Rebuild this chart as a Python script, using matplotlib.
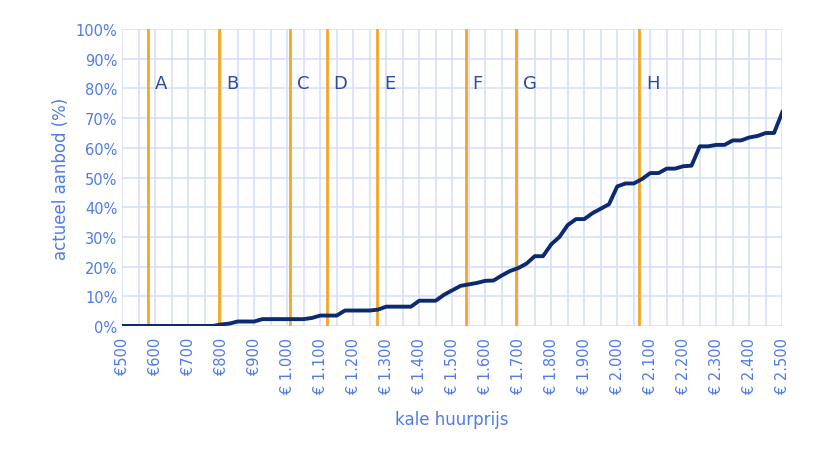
import numpy as np
import matplotlib.pyplot as plt
from matplotlib.ticker import FuncFormatter, MultipleLocator

# huurprijs (euro) en actueel aanbod (%)
prijs = list(range(500, 2501, 25))
aanbod = [0, 0, 0, 0, 0, 0, 0, 0, 0, 0, 0, 0,
          0.5, 0.8, 1.5, 1.5, 1.5, 2.3, 2.3, 2.3, 2.3, 2.3, 2.3,
          2.7, 3.5, 3.5, 3.5, 5.2, 5.2, 5.2, 5.2, 5.5, 6.5, 6.5, 6.5, 6.5,
          8.5, 8.5, 8.5, 10.5, 12, 13.5, 14, 14.5, 15.2, 15.3, 17, 18.5,
          19.5, 21, 23.5, 23.5, 27.5, 30, 34, 36, 36, 38, 39.5, 41, 47,
          48, 48, 49.5, 51.5, 51.5, 53, 53, 53.8, 54, 60.5, 60.5, 61, 61,
          62.5, 62.5, 63.5, 64, 65, 65, 72]

grens_labels = ["A", "B", "C", "D", "E", "F", "G", "H"]
grens_prijs = [579, 794, 1009, 1121, 1273, 1542, 1694, 2067]

blue = "#4F7BE8"
fig = plt.figure(figsize=(8.2, 4.56), dpi=100)
ax = fig.add_axes([0.149, 0.283, 0.805, 0.651])

ax.set_xlim(500, 2500)
ax.set_ylim(0, 100)
ax.xaxis.set_major_locator(MultipleLocator(100))
ax.xaxis.set_minor_locator(MultipleLocator(50))
ax.yaxis.set_major_locator(MultipleLocator(10))
ax.grid(True, which="both", axis="x", color="#D6E0F8", lw=1.2)
ax.grid(True, which="major", axis="y", color="#D6E0F8", lw=1.2)
ax.set_axisbelow(True)

def fmt_eur(v, pos):
    v = int(round(v))
    if v >= 1000:
        return "€ " + f"{v:,}".replace(",", ".")
    return f"€{v}"

ax.xaxis.set_major_formatter(FuncFormatter(fmt_eur))
ax.yaxis.set_major_formatter(FuncFormatter(lambda v, p: f"{int(v)}%"))
plt.setp(ax.get_xticklabels(), rotation=90)
ax.tick_params(colors=blue, labelsize=10.5, length=0, which="both")
ax.tick_params(axis="x", pad=8)
for s in ax.spines.values():
    s.set_visible(False)

for lab, p in zip(grens_labels, grens_prijs):
    ax.axvline(p, color="#F5A623", lw=2)
    ax.text(p + 20, 82, lab, color="#2A4BA8", fontsize=13, va="center")

ax.plot(prijs, aanbod, color="#0B2A6F", lw=2.8)

ax.set_xlabel("kale huurprijs", color=blue, fontsize=12, labelpad=12)
ax.set_ylabel("actueel aanbod (%)", color=blue, fontsize=12)

fig.savefig("out.png")
